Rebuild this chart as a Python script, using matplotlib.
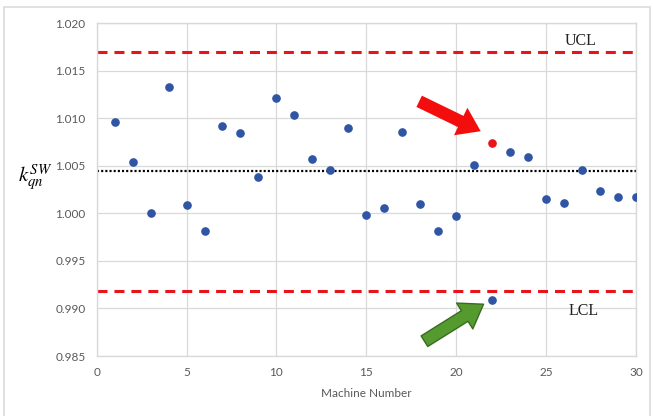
import numpy as np
import matplotlib
matplotlib.use('Agg')
import matplotlib.pyplot as plt
from matplotlib.patches import FancyArrowPatch, Rectangle

# data
machine = list(range(1, 31))
k_qn = [1.0096, 1.0054, 1.0000, 1.0133, 1.0009, 0.9981, 1.0092, 1.0084, 1.0038, 1.0121,
        1.0103, 1.0057, 1.0045, 1.0090, 0.9998, 1.0006, 1.0085, 1.0010, 0.9981, 0.9997,
        1.0051, 0.9909, 1.0064, 1.0059, 1.0015, 1.0011, 1.0046, 1.0023, 1.0017, 1.0017]
red_machine = [22]
red_value = [1.0074]
ucl = 1.0170
lcl = 0.9918
center = 1.0044
x_ticks = [0, 5, 10, 15, 20, 25, 30]
y_ticks = [0.985, 0.990, 0.995, 1.000, 1.005, 1.010, 1.015, 1.020]

plt.rcParams['font.family'] = ['Lato', 'DejaVu Sans']
plt.rcParams['mathtext.fontset'] = 'stix'
plt.rcParams['lines.scale_dashes'] = False

fig = plt.figure(figsize=(6.53, 4.16), dpi=100)
ax = fig.add_axes([0.148, 0.1442, 0.826, 0.8005])

# 바깥 테두리
fig.patches.append(Rectangle((4/653, -0.1), 646/653, 1.1 - 7/416, transform=fig.transFigure,
                             fill=False, edgecolor='#dcdcdc', lw=1.2))

ax.axhline(ucl, color='#e8141b', lw=2.2, dashes=(7.2, 5), zorder=2)
ax.axhline(lcl, color='#e8141b', lw=2.2, dashes=(7.2, 5), zorder=2)
ax.axhline(center, color='black', lw=1.6, dashes=(1.5, 1.5), zorder=2)

ax.plot(machine, k_qn, 'o', color='#2f55a4', ms=5.2, zorder=3)
ax.plot(red_machine, red_value, 'o', color='#e8141b', ms=5.2, zorder=3)

# 화살표
ax.add_patch(FancyArrowPatch((17.8, 1.0119), (21.5, 1.0085),
                             arrowstyle='simple,head_length=16,head_width=22,tail_width=9',
                             mutation_scale=1, color='#f40d0d', lw=0, zorder=4))
ax.add_patch(FancyArrowPatch((18.1, 0.9864), (21.65, 0.9906),
                             arrowstyle='simple,head_length=16,head_width=22,tail_width=9',
                             mutation_scale=1, facecolor='#559a2f', edgecolor='#3a6b22',
                             lw=1, zorder=4))

ax.text(26.9, 1.0181, 'UCL', family='Liberation Serif', fontsize=11.5, ha='center', va='center',
        color='#222222')
ax.text(27.1, 0.9897, 'LCL', family='Liberation Serif', fontsize=11.5, ha='center', va='center',
        color='#222222')

ax.set_xlim(0, 30)
ax.set_ylim(0.985, 1.020)
ax.set_xticks(x_ticks)
ax.set_yticks(y_ticks)
ax.set_yticklabels(['%.3f' % v for v in y_ticks])
ax.tick_params(length=0, labelsize=8.5, labelcolor='#595959', pad=8)
ax.grid(color='#d9d9d9', lw=0.9)
ax.set_axisbelow(True)
for s in ax.spines.values():
    s.set_color('#d9d9d9')
    s.set_linewidth(1)

ax.set_xlabel('Machine Number', fontsize=8.5, color='#595959', labelpad=7)
fig.text(35/653, 1 - 178/416, r'$k_{qn}^{SW}$', fontsize=15, ha='center', va='center')

plt.savefig('out.png', dpi=100)
